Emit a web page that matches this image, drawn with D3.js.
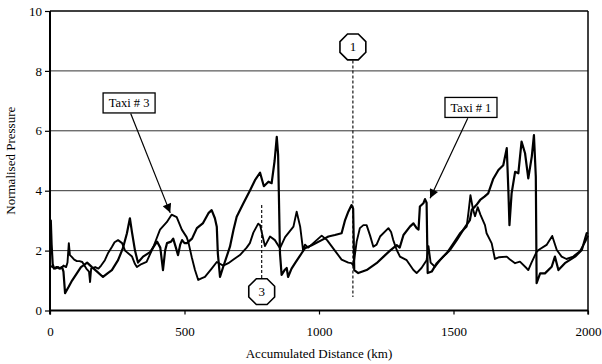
<!DOCTYPE html>
<html>
<head>
<meta charset="utf-8">
<script src="https://cdn.jsdelivr.net/npm/d3@7"></script>
<style>
  body { margin: 0; background: #fff; }
  svg { display: block; }
  text { font-family: "Liberation Serif", "Times New Roman", serif; fill: #000; }
</style>
</head>
<body>
<svg id="chart" width="602" height="364"></svg>
<script>
// Axis ticks
const distanceTicks = [0, 500, 1000, 1500, 2000];
const pressureTicks = [0, 2, 4, 6, 8, 10];
const gridValues = [2, 4, 6, 8];

// Normalised pressure against accumulated distance [km, pressure]
const taxi1 = [
  [0,2.9],[3,3.0],[6,2.2],[10,1.55],[15,1.4],[25,1.45],[35,1.4],[45,1.45],[50,1.3],[56,0.58],
  [70,0.8],[82,1.0],[104,1.3],[115,1.45],[123,1.5],[138,1.6],[156,1.45],[175,1.3],[197,1.12],
  [215,1.25],[230,1.35],[253,1.68],[271,2.08],[286,2.58],[297,3.08],[305,2.6],[316,2.0],
  [327,1.6],[346,1.8],[372,1.95],[398,2.3],[410,2.1],[420,1.35],[428,2.0],[435,2.25],[450,2.3],
  [458,2.4],[468,2.1],[476,1.85],[484,2.2],[491,2.35],[500,2.25],[509,2.25],[528,2.4],[546,2.75],
  [569,2.92],[589,3.25],[601,3.35],[613,3.08],[620,2.8],[624,1.9],[632,1.12],[644,1.46],
  [669,2.13],[682,2.69],[694,3.13],[719,3.58],[743,4.0],[762,4.35],[781,4.6],[795,4.15],
  [812,4.3],[824,4.25],[835,5.0],[843,5.8],[848,5.2],[855,1.9],[861,1.19],[872,1.35],[880,1.42],
  [885,1.12],[898,1.4],[911,1.58],[936,1.92],[948,2.08],[973,2.18],[1010,2.35],[1035,2.47],
  [1059,2.52],[1084,2.58],[1097,3.02],[1109,3.3],[1121,3.52],[1127,3.4],[1131,1.35],[1146,1.25],
  [1177,1.35],[1214,1.58],[1240,1.8],[1264,2.0],[1289,2.18],[1300,2.1],[1314,2.52],[1338,2.8],
  [1351,2.91],[1363,2.75],[1370,2.7],[1375,3.47],[1388,3.58],[1394,3.72],[1400,3.6],[1404,1.25],
  [1419,1.3],[1438,1.58],[1462,1.8],[1487,2.02],[1512,2.35],[1536,2.69],[1561,3.02],[1568,3.36],
  [1585,3.52],[1599,3.69],[1615,3.8],[1629,3.91],[1648,4.4],[1667,4.69],[1685,4.85],[1698,5.42],
  [1704,4.0],[1708,2.85],[1716,3.91],[1729,4.63],[1741,4.58],[1753,5.64],[1766,5.25],[1778,4.41],
  [1791,5.14],[1799,5.86],[1806,4.47],[1809,0.91],[1822,1.24],[1840,1.24],[1865,1.46],[1877,1.8],
  [1890,1.35],[1914,1.58],[1952,1.8],[1977,2.02],[1995,2.58],[2000,2.6]
];

const taxi3 = [
  [0,1.5],[10,1.45],[20,1.4],[30,1.45],[40,1.4],[50,1.5],[60,1.45],[65,1.6],[70,2.25],[74,1.85],
  [80,1.8],[90,1.7],[100,1.65],[110,1.65],[120,1.62],[135,1.4],[145,1.3],[149,0.95],[153,1.4],
  [168,1.45],[180,1.4],[190,1.5],[204,1.68],[215,1.9],[230,2.12],[240,2.28],[253,2.35],[268,2.25],
  [279,2.0],[305,1.8],[316,1.55],[323,1.45],[340,1.55],[359,1.62],[384,2.12],[397,2.42],[409,2.7],
  [434,2.95],[452,3.2],[471,3.12],[490,2.7],[508,2.45],[514,2.3],[527,1.78],[539,1.35],[551,1.02],
  [565,1.08],[576,1.12],[601,1.4],[620,1.62],[644,1.5],[663,1.58],[682,1.7],[706,1.85],[731,2.1],
  [743,2.25],[756,2.6],[774,2.9],[781,2.85],[790,2.5],[799,2.15],[818,2.47],[836,2.35],[855,2.08],
  [874,2.45],[905,2.8],[917,3.3],[930,2.8],[941,2.0],[948,2.2],[960,2.1],[985,2.3],[1010,2.5],
  [1030,2.35],[1059,2.0],[1084,1.7],[1109,1.6],[1121,1.58],[1128,1.5],[1140,2.3],[1152,2.75],
  [1165,2.85],[1177,2.85],[1190,2.5],[1202,2.13],[1214,2.2],[1227,2.47],[1258,2.75],[1268,2.62],
  [1276,2.35],[1289,2.02],[1301,1.8],[1326,1.68],[1351,1.35],[1363,1.25],[1381,1.42],[1400,1.68],
  [1407,2.15],[1415,1.6],[1431,1.46],[1450,1.68],[1475,1.92],[1500,2.25],[1524,2.58],[1549,2.8],
  [1556,3.3],[1563,3.85],[1572,3.4],[1580,3.15],[1590,3.45],[1600,3.2],[1617,2.85],[1623,2.58],
  [1636,2.35],[1642,2.24],[1654,1.72],[1670,1.78],[1698,1.8],[1710,1.7],[1729,1.58],[1747,1.63],
  [1772,1.41],[1778,1.35],[1790,1.6],[1809,1.96],[1816,2.02],[1846,2.19],[1867,2.49],[1884,2.02],
  [1902,1.8],[1920,1.72],[1945,1.8],[1970,1.98],[1990,2.3],[2000,2.5]
];

// Labelled callouts: box centre and arrow tip in data units
const callouts = [
  { text: "Taxi # 3", box: [294, 6.93], from: [300, 6.58], tip: [447, 3.26] },
  { text: "Taxi # 1", box: [1565, 6.78], from: [1553, 6.42], tip: [1413, 3.75] }
];

// Numbered events: octagon marker with a dashed guide line
const events = [
  { id: "1", km: 1126, marker: 8.8, lineTop: 8.35, lineBottom: 0.45 },
  { id: "3", km: 787, marker: 0.63, lineTop: 3.52, lineBottom: 1.08 }
];

const xTitle = "Accumulated Distance (km)";
const yTitle = "Normalised Pressure";

const svg = d3.select("#chart");
const x = d3.scaleLinear().domain([0, 2000]).range([50, 588]);
const y = d3.scaleLinear().domain([0, 10]).range([310.5, 11]);

// Horizontal grid lines
svg.append("g")
  .selectAll("line")
  .data(gridValues)
  .join("line")
  .attr("x1", x(0)).attr("x2", x(2000))
  .attr("y1", d => y(d)).attr("y2", d => y(d))
  .attr("stroke", "#333").attr("stroke-width", 1);

// Frame: top and right edges
svg.append("line")
  .attr("x1", x(0)).attr("x2", x(2000)).attr("y1", y(10)).attr("y2", y(10))
  .attr("stroke", "#000").attr("stroke-width", 1.5);
svg.append("line")
  .attr("x1", x(2000)).attr("x2", x(2000)).attr("y1", y(10)).attr("y2", y(0) + 4)
  .attr("stroke", "#000").attr("stroke-width", 1.5);

// Axes
const yAxis = svg.append("g")
  .attr("transform", `translate(${x(0)},0)`)
  .call(d3.axisLeft(y).tickValues(pressureTicks).tickSize(5).tickPadding(3).tickFormat(d3.format("d")));
const xAxis = svg.append("g")
  .attr("transform", `translate(0,${y(0)})`)
  .call(d3.axisBottom(x).tickValues(distanceTicks).tickSize(4).tickPadding(12).tickFormat(d3.format("d")));

[yAxis, xAxis].forEach(g => {
  g.select(".domain").attr("stroke", "#000").attr("stroke-width", 2);
  g.selectAll(".tick line").attr("stroke", "#000").attr("stroke-width", 1.2);
  g.selectAll(".tick text")
    .attr("fill", "#000")
    .style("font-family", '"Liberation Serif", "Times New Roman", serif')
    .style("font-size", "13px");
});
xAxis.select(".domain").attr("d", `M${x(0)},0H${x(2000)}`);
yAxis.select(".domain").attr("d", `M0,${y(0) + 4}V${y(10)}`);

// Series
const line = d3.line().x(d => x(d[0])).y(d => y(d[1]));
svg.append("path").datum(taxi3)
  .attr("d", line).attr("fill", "none").attr("stroke", "#000")
  .attr("stroke-width", 1.9).attr("stroke-linejoin", "round");
svg.append("path").datum(taxi1)
  .attr("d", line).attr("fill", "none").attr("stroke", "#000")
  .attr("stroke-width", 2.2).attr("stroke-linejoin", "round");

// Event guide lines and octagon markers
function octagon(cx, cy, r) {
  const pts = d3.range(8).map(i => {
    const a = Math.PI / 8 + i * Math.PI / 4;
    return [cx + r * Math.cos(a), cy + r * Math.sin(a)];
  });
  return "M" + pts.map(p => p.join(",")).join("L") + "Z";
}
const ev = svg.append("g").selectAll("g").data(events).join("g");
ev.append("line")
  .attr("x1", d => x(d.km)).attr("x2", d => x(d.km))
  .attr("y1", d => y(d.lineTop)).attr("y2", d => y(d.lineBottom))
  .attr("stroke", "#000").attr("stroke-width", 1.1).attr("stroke-dasharray", "3,2");
ev.append("path")
  .attr("d", d => octagon(x(d.km), y(d.marker), 14))
  .attr("fill", "#fff").attr("stroke", "#000").attr("stroke-width", 1.6);
ev.append("text")
  .attr("x", d => x(d.km)).attr("y", d => y(d.marker) + 4.5)
  .attr("text-anchor", "middle").style("font-size", "13px")
  .text(d => d.id);

// Callouts with arrows
svg.append("defs").append("marker")
  .attr("id", "arrowhead").attr("viewBox", "0 0 10 10")
  .attr("refX", 10).attr("refY", 5)
  .attr("markerWidth", 11).attr("markerHeight", 9)
  .attr("markerUnits", "userSpaceOnUse")
  .attr("orient", "auto")
  .append("path").attr("d", "M0,0L10,5L0,10Z").attr("fill", "#000");

const co = svg.append("g").selectAll("g").data(callouts).join("g");
co.append("line")
  .attr("x1", d => x(d.from[0])).attr("y1", d => y(d.from[1]))
  .attr("x2", d => x(d.tip[0])).attr("y2", d => y(d.tip[1]))
  .attr("stroke", "#000").attr("stroke-width", 1.2)
  .attr("marker-end", "url(#arrowhead)");
co.append("rect")
  .attr("x", d => x(d.box[0]) - 26).attr("y", d => y(d.box[1]) - 10)
  .attr("width", 52).attr("height", 20)
  .attr("fill", "#fff").attr("stroke", "#000").attr("stroke-width", 1.3);
co.append("text")
  .attr("x", d => x(d.box[0])).attr("y", d => y(d.box[1]) + 4.5)
  .attr("text-anchor", "middle").style("font-size", "12.5px")
  .text(d => d.text);

// Axis titles
svg.append("text")
  .attr("x", (x(0) + x(2000)) / 2).attr("y", 358)
  .attr("text-anchor", "middle").style("font-size", "13px")
  .text(xTitle);
svg.append("text")
  .attr("transform", `translate(15,${(y(0) + y(10)) / 2}) rotate(-90)`)
  .attr("text-anchor", "middle").style("font-size", "13px")
  .text(yTitle);
</script>
</body>
</html>
